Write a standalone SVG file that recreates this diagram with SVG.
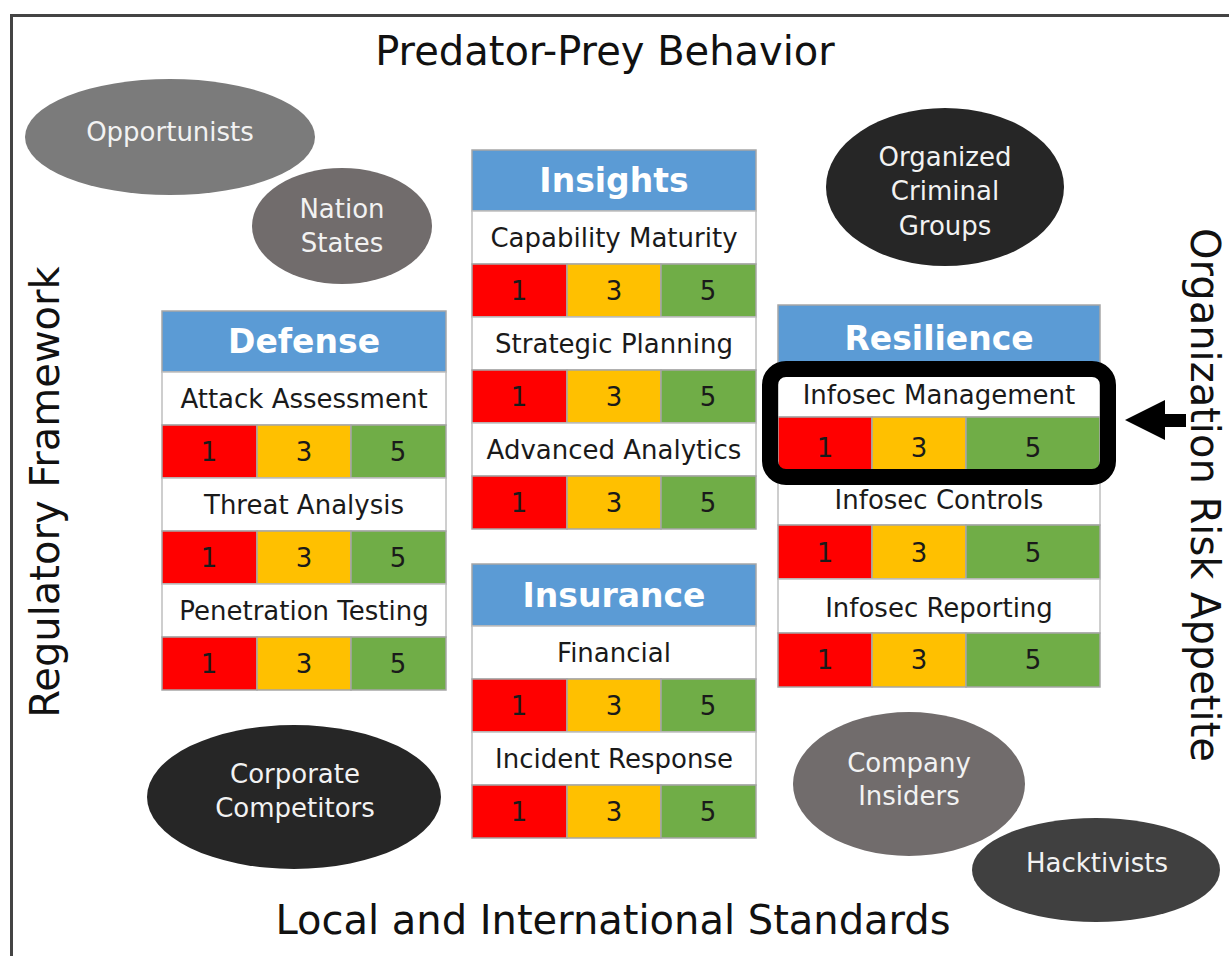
<svg xmlns="http://www.w3.org/2000/svg" width="1229" height="956" viewBox="0 0 1229 956">
<style>
text{font-family:"DejaVu Sans",Verdana,sans-serif}
.big{font-size:40px;fill:#111}
.et{font-size:26px;fill:#f2f2f2;text-anchor:middle}
.hd{fill:#5b9bd5;stroke:#a6a6a6;stroke-width:1.5}
.wr{fill:#fff;stroke:#bfbfbf;stroke-width:1.5}
.r{fill:#ff0000;stroke:#a6a6a6;stroke-width:1.5}
.y{fill:#ffc000;stroke:#a6a6a6;stroke-width:1.5}
.g{fill:#70ad47;stroke:#a6a6a6;stroke-width:1.5}
.ht{font-size:33px;font-weight:bold;fill:#fff;text-anchor:middle}
.lt{font-size:26px;fill:#1a1a1a;text-anchor:middle}
</style>
<rect width="1229" height="956" fill="#fff"/>
<rect x="11.5" y="15.5" width="1240" height="960" fill="none" stroke="#444" stroke-width="3"/>

<text class="big" x="605" y="65" text-anchor="middle">Predator-Prey Behavior</text>
<text class="big" x="613" y="934" text-anchor="middle">Local and International Standards</text>
<text class="big" transform="translate(59,492) rotate(-90)" text-anchor="middle">Regulatory Framework</text>
<text class="big" transform="translate(1191,495) rotate(90)" text-anchor="middle">Organization Risk Appetite</text>

<g id="opportunists"><ellipse cx="170" cy="137" rx="145" ry="58" fill="#7b7b7b"/><text class="et" x="170" y="141">Opportunists</text></g>
<g id="nation-states"><ellipse cx="342" cy="226" rx="90" ry="58" fill="#716c6c"/><text class="et" x="342" y="218">Nation</text><text class="et" x="342" y="252">States</text></g>
<g id="organized-criminal"><ellipse cx="945" cy="187" rx="119" ry="79" fill="#262626"/><text class="et" x="945" y="166">Organized</text><text class="et" x="945" y="200">Criminal</text><text class="et" x="945" y="235">Groups</text></g>
<g id="corporate-competitors"><ellipse cx="294" cy="797" rx="147" ry="72" fill="#262626"/><text class="et" x="295" y="783">Corporate</text><text class="et" x="295" y="817">Competitors</text></g>
<g id="company-insiders"><ellipse cx="909" cy="784" rx="116" ry="72" fill="#716c6c"/><text class="et" x="909" y="772">Company</text><text class="et" x="909" y="805">Insiders</text></g>
<g id="hacktivists"><ellipse cx="1096" cy="870" rx="124" ry="52" fill="#404040"/><text class="et" x="1097" y="872">Hacktivists</text></g>

<g id="defense">
<rect class="hd" x="162" y="311" width="284" height="61"/><text class="ht" x="304" y="353">Defense</text>
<rect class="wr" x="162" y="372" width="284" height="53"/><text class="lt" x="304" y="408">Attack Assessment</text>
<rect class="r" x="162" y="425" width="95" height="53"/><rect class="y" x="257" y="425" width="94" height="53"/><rect class="g" x="351" y="425" width="95" height="53"/>
<text class="lt" x="209" y="461">1</text><text class="lt" x="304" y="461">3</text><text class="lt" x="398" y="461">5</text>
<rect class="wr" x="162" y="478" width="284" height="53"/><text class="lt" x="304" y="514">Threat Analysis</text>
<rect class="r" x="162" y="531" width="95" height="53"/><rect class="y" x="257" y="531" width="94" height="53"/><rect class="g" x="351" y="531" width="95" height="53"/>
<text class="lt" x="209" y="567">1</text><text class="lt" x="304" y="567">3</text><text class="lt" x="398" y="567">5</text>
<rect class="wr" x="162" y="584" width="284" height="53"/><text class="lt" x="304" y="620">Penetration Testing</text>
<rect class="r" x="162" y="637" width="95" height="53"/><rect class="y" x="257" y="637" width="94" height="53"/><rect class="g" x="351" y="637" width="95" height="53"/>
<text class="lt" x="209" y="673">1</text><text class="lt" x="304" y="673">3</text><text class="lt" x="398" y="673">5</text>
</g>

<g id="insights">
<rect class="hd" x="472" y="150" width="284" height="61"/><text class="ht" x="614" y="192">Insights</text>
<rect class="wr" x="472" y="211" width="284" height="53"/><text class="lt" x="614" y="247">Capability Maturity</text>
<rect class="r" x="472" y="264" width="95" height="53"/><rect class="y" x="567" y="264" width="94" height="53"/><rect class="g" x="661" y="264" width="95" height="53"/>
<text class="lt" x="519" y="300">1</text><text class="lt" x="614" y="300">3</text><text class="lt" x="708" y="300">5</text>
<rect class="wr" x="472" y="317" width="284" height="53"/><text class="lt" x="614" y="353">Strategic Planning</text>
<rect class="r" x="472" y="370" width="95" height="53"/><rect class="y" x="567" y="370" width="94" height="53"/><rect class="g" x="661" y="370" width="95" height="53"/>
<text class="lt" x="519" y="406">1</text><text class="lt" x="614" y="406">3</text><text class="lt" x="708" y="406">5</text>
<rect class="wr" x="472" y="423" width="284" height="53"/><text class="lt" x="614" y="459">Advanced Analytics</text>
<rect class="r" x="472" y="476" width="95" height="53"/><rect class="y" x="567" y="476" width="94" height="53"/><rect class="g" x="661" y="476" width="95" height="53"/>
<text class="lt" x="519" y="512">1</text><text class="lt" x="614" y="512">3</text><text class="lt" x="708" y="512">5</text>
</g>

<g id="insurance">
<rect class="hd" x="472" y="564" width="284" height="62"/><text class="ht" x="614" y="607">Insurance</text>
<rect class="wr" x="472" y="626" width="284" height="53"/><text class="lt" x="614" y="662">Financial</text>
<rect class="r" x="472" y="679" width="95" height="53"/><rect class="y" x="567" y="679" width="94" height="53"/><rect class="g" x="661" y="679" width="95" height="53"/>
<text class="lt" x="519" y="715">1</text><text class="lt" x="614" y="715">3</text><text class="lt" x="708" y="715">5</text>
<rect class="wr" x="472" y="732" width="284" height="53"/><text class="lt" x="614" y="768">Incident Response</text>
<rect class="r" x="472" y="785" width="95" height="53"/><rect class="y" x="567" y="785" width="94" height="53"/><rect class="g" x="661" y="785" width="95" height="53"/>
<text class="lt" x="519" y="821">1</text><text class="lt" x="614" y="821">3</text><text class="lt" x="708" y="821">5</text>
</g>

<g id="resilience">
<rect class="hd" x="778" y="305" width="322" height="58"/><text class="ht" x="939" y="350">Resilience</text>
<rect class="wr" x="778" y="363" width="322" height="54"/><text class="lt" x="939" y="404">Infosec Management</text>
<rect class="r" x="778" y="417" width="94" height="54"/><rect class="y" x="872" y="417" width="94" height="54"/><rect class="g" x="966" y="417" width="134" height="54"/>
<text class="lt" x="825" y="457">1</text><text class="lt" x="919" y="457">3</text><text class="lt" x="1033" y="457">5</text>
<rect class="wr" x="778" y="471" width="322" height="54"/><text class="lt" x="939" y="509">Infosec Controls</text>
<rect class="r" x="778" y="525" width="94" height="54"/><rect class="y" x="872" y="525" width="94" height="54"/><rect class="g" x="966" y="525" width="134" height="54"/>
<text class="lt" x="825" y="562">1</text><text class="lt" x="919" y="562">3</text><text class="lt" x="1033" y="562">5</text>
<rect class="wr" x="778" y="579" width="322" height="54"/><text class="lt" x="939" y="617">Infosec Reporting</text>
<rect class="r" x="778" y="633" width="94" height="54"/><rect class="y" x="872" y="633" width="94" height="54"/><rect class="g" x="966" y="633" width="134" height="54"/>
<text class="lt" x="825" y="669">1</text><text class="lt" x="919" y="669">3</text><text class="lt" x="1033" y="669">5</text>
</g>

<g id="highlight">
<rect x="770" y="369" width="338" height="108" rx="16" ry="16" fill="none" stroke="#000" stroke-width="16"/>
</g>

<g id="connectors">
<polygon points="1125,420 1165,400 1165,414 1186,414 1186,427 1165,427 1165,440" fill="#000"/>
</g>
</svg>
